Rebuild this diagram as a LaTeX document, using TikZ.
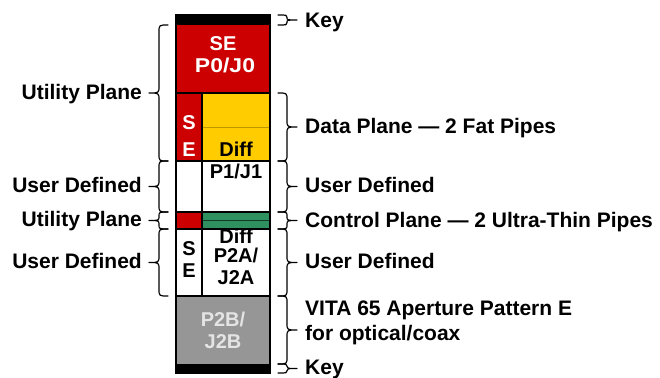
\documentclass[tikz,border=0pt]{standalone}
\usepackage{fontspec}
\setmainfont{Liberation Sans}
\usepackage{graphicx}
\definecolor{vred}{RGB}{204,0,0}
\definecolor{vyel}{RGB}{255,204,0}
\definecolor{vgray}{RGB}{150,150,150}
\definecolor{vgreen}{RGB}{46,145,95}
\definecolor{vtxtgray}{RGB}{228,228,228}
\definecolor{vyelline}{RGB}{190,150,0}
\newcommand\mybrace[4]{%
  \pgfmathsetmacro\bm{(#2+#3)/2}%
  \pgfmathsetmacro\br{min(7,(#3-#2)/4)}%
  \pgfmathsetmacro\bs{#1+#4*9}%
  \pgfmathsetmacro\bt{#1+#4*19}%
  \draw[bracestyle] (#1,#2) .. controls (\bs,#2) .. (\bs,{#2+\br}) -- (\bs,{\bm-\br}) .. controls (\bs,\bm) .. (\bt,\bm) .. controls (\bs,\bm) .. (\bs,{\bm+\br}) -- (\bs,{#3-\br}) .. controls (\bs,#3) .. (#1,#3);
}
\begin{document}
\begin{tikzpicture}[x=1pt,y=-1pt,
  lab/.style={font=\fontsize{21}{25}\selectfont\bfseries, inner sep=0pt},
  cell/.style={font=\fontsize{20}{23}\selectfont\bfseries, inner sep=0pt, anchor=base},
  bracestyle/.style={line width=1.2pt, black, line cap=round, line join=round},
  rule/.style={line width=1.5pt, black}]
\useasboundingbox (0,0) rectangle (660,377);
% fills
\fill[black] (176,15) rectangle (270,25);
\fill[vred] (176,25) rectangle (270,93);
\fill[vred] (176,93) rectangle (202,161);
\fill[vyel] (202,93) rectangle (270,161);
\fill[vred] (176,212) rectangle (202,229);
\fill[vgreen] (202,212) rectangle (270,229);
\fill[vgray] (176,296) rectangle (270,364);
\fill[black] (176,364) rectangle (270,373);
\draw[line width=0.7pt, vyelline] (202,127) -- (270,127);
\draw[line width=0.8pt, black!60!vgreen] (202,220.5) -- (270,220.5);
% rules
\draw[rule] (176,93) -- (270,93);
\draw[rule] (176,161) -- (270,161);
\draw[rule] (176,212) -- (270,212);
\draw[rule] (176,229) -- (270,229);
\draw[rule] (176,296) -- (270,296);
\draw[rule] (202,93) -- (202,296);
\draw[rule] (176,15) rectangle (270,373);
% cell texts
\node[cell, white] (se0) at (223,50.5) {SE};
\node[cell, white] (pj0) at (225,72.5) {\scalebox{1.15}[1]{P0/J0}};
\node[cell, white] (s1) at (189,129) {S};
\node[cell, white] (e1) at (189,156) {E};
\node[cell] (diff1) at (236,156.5) {Diff};
\node[cell] (pj1) at (236,178) {P1/J1};
\node[cell] (s2) at (189,255.7) {S};
\node[cell] (e2) at (189,277.5) {E};
\node[cell] (diff2) at (236,243.5) {Diff};
\node[cell] (pj2a) at (236,262) {P2A/};
\node[cell] (jj2a) at (236,284) {J2A};
\node[cell, vtxtgray] (pj2b) at (223,326) {P2B/};
\node[cell, vtxtgray] (jj2b) at (223,348) {J2B};
% left braces
\mybrace{168}{25}{161}{-1}
\mybrace{168}{161}{212}{-1}
\mybrace{168}{212}{229}{-1}
\mybrace{168}{229}{296}{-1}
% right braces
\mybrace{278}{15}{25}{1}
\mybrace{278}{93}{161}{1}
\mybrace{278}{161}{212}{1}
\mybrace{278}{212}{229}{1}
\mybrace{278}{229}{296}{1}
\mybrace{278}{296}{364}{1}
\mybrace{278}{364}{373}{1}
% left labels
\node[lab, anchor=base east] (lu1) at (142,99.5) {Utility Plane};
\node[lab, anchor=base east] (ld1) at (142,192.3) {User Defined};
\node[lab, anchor=base east] (lu2) at (142,226.8) {Utility Plane};
\node[lab, anchor=base east] (ld2) at (142,268.5) {User Defined};
% right labels
\node[lab, anchor=base west] (rk1) at (305,27.5) {Key};
\node[lab, anchor=base west] (rdp) at (305,133.5) {Data Plane — 2 Fat Pipes};
\node[lab, anchor=base west] (rd1) at (305,192.3) {User Defined};
\node[lab, anchor=base west] (rcp) at (305,227.3) {Control Plane — 2 Ultra-Thin Pipes};
\node[lab, anchor=base west] (rd2) at (305,268.5) {User Defined};
\node[lab, anchor=base west] (rv1) at (305,315.5) {VITA 65 Aperture Pattern E};
\node[lab, anchor=base west] (rv2) at (305,340.7) {for optical/coax};
\node[lab, anchor=base west] (rk2) at (305,374.5) {Key};
\end{tikzpicture}
\end{document}
